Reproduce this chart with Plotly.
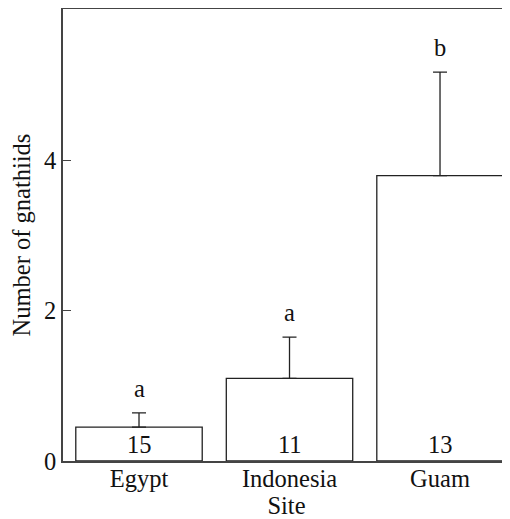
import plotly.graph_objects as go

sites = ["Egypt", "Indonesia", "Guam"]
means = [0.45, 1.10, 3.80]
errors = [0.19, 0.55, 1.38]
letters = ["a", "a", "b"]
sample_sizes = ["15", "11", "13"]
y_ticks = [0, 2, 4]

FONT = "Liberation Serif"
FS = 24.5
TXT = "#111111"

fig = go.Figure()
fig.add_trace(go.Bar(
    x=sites, y=means, width=0.84,
    marker=dict(color="white", line=dict(color="#222222", width=1.3)),
    error_y=dict(type="data", symmetric=False, array=errors,
                 arrayminus=[0] * len(errors), color="#222222",
                 thickness=1.3, width=7),
    showlegend=False, hoverinfo="skip",
))

for s, m, e, l, n in zip(sites, means, errors, letters, sample_sizes):
    fig.add_annotation(x=s, y=m + e, text=l, showarrow=False,
                       yanchor="bottom", yshift=9,
                       font=dict(family=FONT, size=FS, color=TXT))
    fig.add_annotation(x=s, y=0, text=n, showarrow=False,
                       yanchor="bottom", yshift=1,
                       font=dict(family=FONT, size=FS, color=TXT))

# page body has an 8px default margin; size the figure so it fits the window
fig.update_layout(
    width=502, height=511,
    margin=dict(l=55, r=0, t=1, b=58),
    plot_bgcolor="white", paper_bgcolor="white",
    font=dict(family=FONT, size=FS, color=TXT),
    xaxis=dict(
        range=[-0.505, 2.465], showgrid=False, zeroline=False,
        showline=True, linecolor="#444444", linewidth=1.5,
        mirror=True, ticks="", tickfont=dict(size=FS),
        ticklabelstandoff=-5,
        title=dict(text="Site", standoff=0, font=dict(size=FS)),
    ),
    yaxis=dict(
        range=[0, 6.02], tickvals=y_ticks, showgrid=False, zeroline=False,
        showline=True, linecolor="#444444", linewidth=1.5,
        ticks="inside", ticklen=8, tickcolor="#444444", tickwidth=1.2,
        tickfont=dict(size=FS),
        title=dict(text="Number of gnathiids", standoff=10, font=dict(size=FS)),
    ),
)

fig.write_html("out.html")
